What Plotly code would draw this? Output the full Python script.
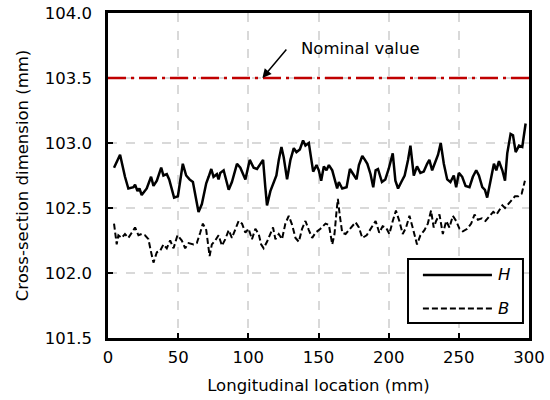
import plotly.graph_objects as go

# H (height) profile
h_x = [4.3, 8.6, 12.1, 14.5, 18.1, 19.3, 21.0, 22.4, 24.0, 27.6, 30.7, 32.4, 34.8, 37.9, 39.5,
       41.9, 43.6, 47.1, 49.8, 53.3, 55.7, 58.1, 60.5, 62.1, 64.5, 66.9, 70.0, 71.7, 73.6, 75.2,
       77.6, 78.8, 80.0, 82.4, 84.3, 86.0, 88.3, 91.9, 94.3, 97.9, 101.0, 103.8, 106.2, 108.6,
       110.5, 112.1, 113.3, 115.7, 118.1, 120.0, 121.7, 123.6, 125.2, 127.6, 130.0, 132.4, 134.3,
       136.7, 139.0, 140.7, 143.1, 144.3, 146.2, 148.6, 150.2, 151.9, 153.8, 155.7, 157.4, 159.8,
       162.1, 163.3, 164.5, 166.9, 170.0, 172.4, 174.8, 177.1, 178.8, 181.2, 183.1, 184.8, 187.1,
       189.0, 190.7, 192.4, 195.2, 197.6, 200.0, 202.9, 204.8, 206.7, 209.0, 211.4, 213.8, 215.5,
       217.9, 220.2, 222.6, 225.0, 227.4, 229.0, 231.0, 233.3, 235.2, 237.1, 239.3, 241.7, 244.0,
       246.4, 248.1, 250.0, 252.4, 254.8, 257.6, 260.0, 262.4, 264.3, 266.7, 268.6, 270.2, 272.6,
       275.0, 276.7, 278.6, 281.0, 282.9, 284.5, 286.9, 288.6, 290.5, 292.9, 295.2, 297.6]
h_y = [102.81, 102.91, 102.74, 102.65, 102.66, 102.68, 102.63, 102.65, 102.60, 102.65, 102.74,
       102.67, 102.71, 102.81, 102.75, 102.76, 102.72, 102.58, 102.59, 102.84, 102.75, 102.72,
       102.70, 102.61, 102.47, 102.53, 102.69, 102.74, 102.80, 102.74, 102.76, 102.72, 102.77,
       102.79, 102.70, 102.64, 102.70, 102.84, 102.81, 102.72, 102.87, 102.81, 102.80, 102.84,
       102.87, 102.66, 102.52, 102.63, 102.70, 102.75, 102.87, 102.97, 102.89, 102.72, 102.87,
       102.96, 102.93, 102.95, 103.02, 102.98, 103.00, 102.92, 102.78, 102.83, 102.79, 102.71,
       102.82, 102.79, 102.83, 102.79, 102.70, 102.65, 102.70, 102.65, 102.66, 102.80, 102.76,
       102.72, 102.83, 102.90, 102.87, 102.84, 102.76, 102.66, 102.79, 102.80, 102.70, 102.72,
       102.80, 102.92, 102.71, 102.65, 102.70, 102.75, 102.87, 102.98, 102.75, 102.82, 102.77,
       102.78, 102.84, 102.87, 102.79, 102.86, 102.91, 103.00, 102.84, 102.72, 102.70, 102.75,
       102.66, 102.77, 102.74, 102.67, 102.66, 102.74, 102.79, 102.75, 102.66, 102.64, 102.58,
       102.71, 102.84, 102.79, 102.86, 102.79, 102.71, 102.92, 103.07, 103.06, 102.93, 102.98,
       102.97, 103.15]

# B (width) profile
b_x = [4.3, 6.2, 7.4, 9.8, 12.1, 14.5, 16.9, 19.3, 21.7, 24.0, 26.4, 28.8, 30.5, 32.4, 34.8,
       37.1, 39.5, 41.9, 44.3, 46.7, 49.5, 52.6, 55.0, 57.4, 61.0, 63.3, 65.7, 67.6, 70.0, 72.4,
       74.0, 76.4, 78.8, 81.2, 83.6, 86.0, 88.3, 90.7, 93.1, 95.5, 97.9, 100.2, 102.6, 105.0,
       107.4, 109.1, 110.9, 113.3, 115.7, 117.6, 119.3, 121.7, 124.0, 126.4, 128.8, 131.2, 133.6,
       136.0, 138.3, 140.7, 143.1, 145.5, 147.9, 151.4, 155.0, 157.4, 159.8, 161.4, 162.9, 163.8,
       165.2, 166.9, 169.3, 172.9, 176.4, 178.8, 181.2, 184.3, 187.1, 190.7, 193.3, 195.7, 198.1,
       200.5, 202.9, 205.2, 207.6, 210.0, 212.4, 214.8, 217.1, 220.2, 222.6, 225.5, 227.9, 230.2,
       232.1, 233.8, 236.2, 238.6, 241.0, 243.3, 245.7, 248.1, 250.5, 252.9, 256.0, 258.8, 261.2,
       263.6, 266.4, 269.0, 272.1, 274.5, 276.9, 279.3, 281.0, 282.9, 285.2, 287.6, 290.0, 292.4,
       294.8, 297.1]
b_y = [102.38, 102.22, 102.29, 102.27, 102.30, 102.27, 102.31, 102.35, 102.29, 102.30, 102.29,
       102.26, 102.17, 102.08, 102.16, 102.17, 102.22, 102.19, 102.25, 102.19, 102.29, 102.25,
       102.19, 102.23, 102.22, 102.23, 102.31, 102.38, 102.33, 102.13, 102.22, 102.25, 102.29,
       102.21, 102.26, 102.33, 102.27, 102.33, 102.40, 102.38, 102.31, 102.34, 102.26, 102.34,
       102.30, 102.22, 102.19, 102.24, 102.30, 102.35, 102.26, 102.30, 102.26, 102.38, 102.44,
       102.37, 102.27, 102.24, 102.34, 102.40, 102.33, 102.27, 102.31, 102.34, 102.38, 102.37,
       102.22, 102.30, 102.48, 102.57, 102.44, 102.31, 102.30, 102.35, 102.39, 102.35, 102.27,
       102.29, 102.34, 102.40, 102.31, 102.36, 102.35, 102.30, 102.40, 102.48, 102.40, 102.30,
       102.35, 102.44, 102.35, 102.22, 102.29, 102.33, 102.38, 102.48, 102.35, 102.40, 102.45,
       102.30, 102.40, 102.35, 102.44, 102.40, 102.34, 102.32, 102.34, 102.38, 102.45, 102.41,
       102.42, 102.40, 102.44, 102.47, 102.45, 102.49, 102.52, 102.50, 102.53, 102.56, 102.59,
       102.59, 102.61, 102.71]

nominal = 103.5
arrow_head = (110, 103.5)
arrow_tail = (128, 103.73)

FONT = "DejaVu Sans"
FS = 16.5
H_LINE = dict(color="black", width=2.5)
B_LINE = dict(color="black", width=2, dash="6px,3px")

fig = go.Figure()
fig.add_trace(go.Scatter(x=h_x, y=h_y, mode="lines", name="H", line=H_LINE, showlegend=False))
fig.add_trace(go.Scatter(x=b_x, y=b_y, mode="lines", name="B", line=B_LINE, showlegend=False))

fig.add_hline(y=nominal, line=dict(color="#C00000", width=2.5, dash="18px,5px,3px,5px"))

# arrow + label
fig.add_annotation(x=arrow_head[0], y=arrow_head[1], ax=arrow_tail[0], ay=arrow_tail[1],
                   axref="x", ayref="y", text="", showarrow=True,
                   arrowhead=2, arrowsize=1.2, arrowwidth=1.5, arrowcolor="black")
fig.add_annotation(x=arrow_tail[0] + 8, y=arrow_tail[1], text="Nominal value", showarrow=False,
                   xanchor="left", yanchor="middle", font=dict(size=FS, color="black", family=FONT))

# legend box drawn by hand so the line samples are long like the original
fig.add_shape(type="rect", xref="paper", yref="paper", x0=0.7126, x1=0.9857, y0=0.046, y1=0.243,
              line=dict(color="black", width=2), fillcolor="white", layer="above")
for yy, ln, lab in [(0.194, H_LINE, "H"), (0.091, B_LINE, "B")]:
    fig.add_shape(type="line", xref="paper", yref="paper", x0=0.748, x1=0.912, y0=yy, y1=yy,
                  line=ln, layer="above")
    fig.add_annotation(xref="paper", yref="paper", x=0.922, y=yy, text="<i>%s</i>" % lab,
                       showarrow=False, xanchor="left", yanchor="middle",
                       font=dict(size=FS, color="black", family=FONT))

axis_common = dict(showline=True, linecolor="black", linewidth=2.5, mirror=True,
                   ticks="inside", ticklen=5, tickwidth=1.5, tickcolor="black",
                   showgrid=True, gridcolor="#d9d9d9", gridwidth=1.5, griddash="dash",
                   zeroline=False, automargin=False, ticklabeloverflow="allow",
                   tickfont=dict(size=FS, color="black", family=FONT))

fig.update_xaxes(range=[0, 300], dtick=50, ticklabelstandoff=2,
                 title=dict(text="Longitudinal location (mm)", font=dict(size=FS, color="black", family=FONT),
                            standoff=14),
                 **axis_common)
fig.update_yaxes(range=[101.5, 104.0], dtick=0.5, tickformat=".1f", ticklabelstandoff=10,
                 title=dict(text="Cross-section dimension (mm)", font=dict(size=FS, color="black", family=FONT),
                            standoff=12),
                 **axis_common)

fig.update_layout(
    width=550, height=400,
    margin=dict(l=108, r=21, t=13, b=62),
    plot_bgcolor="white", paper_bgcolor="white",
    font=dict(family=FONT, size=FS, color="black"),
    showlegend=False,
)

# drop the default body margin so the figure fills the window exactly
fig.write_html("out.html", config={"displayModeBar": False},
               post_script="document.body.style.margin='0';")
